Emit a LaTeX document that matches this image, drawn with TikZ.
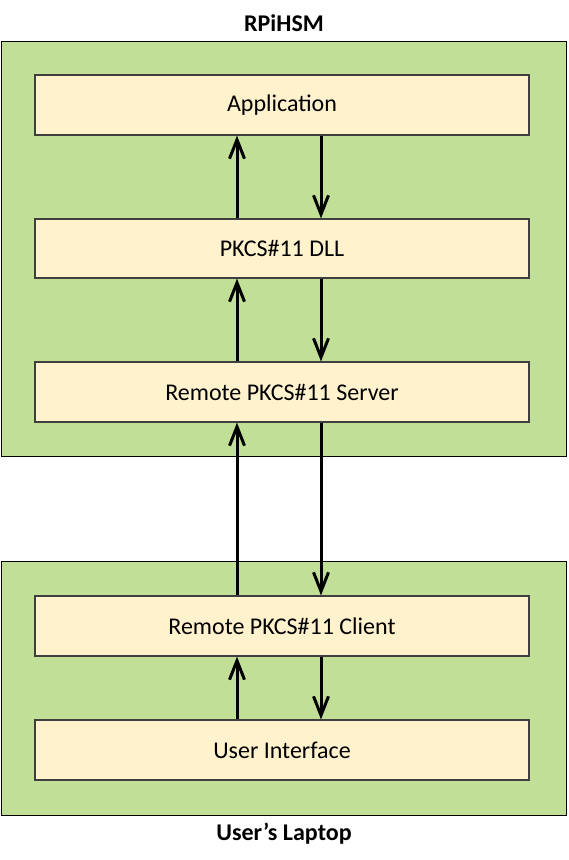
\documentclass[tikz,border=0pt]{standalone}
\usepackage{fontspec}
\setmainfont{Carlito}
\usetikzlibrary{arrows.meta}
\definecolor{outergreen}{HTML}{C2DF97}
\definecolor{innercream}{HTML}{FFF2CC}
\definecolor{edgegray}{HTML}{3F3F3F}
\begin{document}
\begin{tikzpicture}[x=1pt,y=-1pt,
  container/.style={draw=black, line width=1pt, fill=outergreen, inner sep=0pt, minimum width=565pt},
  layerbox/.style={draw=edgegray, line width=1.2pt, fill=innercream, minimum width=494pt, minimum height=60pt, inner sep=0pt, font=\fontsize{24}{28}\selectfont},
  titletext/.style={font=\bfseries\fontsize{24}{28}\selectfont, inner sep=0pt},
  flow/.style={line width=3pt, -{Straight Barb[length=19pt,width=15pt,line width=3pt]}}]
\useasboundingbox (0,0) rectangle (568,860);
% containers
\node[container, minimum height=415pt] (rpi) at (283.5,248.5) {};
\node[container, minimum height=254pt] (laptop) at (283.5,688) {};
\node[titletext] (rpititle) at (284,23) {RPiHSM};
\node[titletext] (laptoptitle) at (284,834) {User’s Laptop};
% layers
\node[layerbox] (app) at (282,105) {\raisebox{-1.5pt}{Application}};
\node[layerbox, minimum height=59pt] (dll) at (282,248.5) {\raisebox{-1.5pt}{PKCS\#11 DLL}};
\node[layerbox] (server) at (282,392) {\raisebox{-1.5pt}{Remote PKCS\#11 Server}};
\node[layerbox] (client) at (282,626) {\raisebox{-1.5pt}{Remote PKCS\#11 Client}};
\node[layerbox] (ui) at (282,750) {\raisebox{-1.5pt}{User Interface}};
% arrow columns
\coordinate (upx) at (237,0);
\coordinate (downx) at (321,0);
% arrows
\draw[flow] (dll.north -| upx) -- (app.south -| upx);
\draw[flow] (app.south -| downx) -- (dll.north -| downx);
\draw[flow] (server.north -| upx) -- (dll.south -| upx);
\draw[flow] (dll.south -| downx) -- (server.north -| downx);
\draw[flow] (client.north -| upx) -- (server.south -| upx);
\draw[flow] (server.south -| downx) -- (client.north -| downx);
\draw[flow] (ui.north -| upx) -- (client.south -| upx);
\draw[flow] (client.south -| downx) -- (ui.north -| downx);
\end{tikzpicture}
\end{document}
